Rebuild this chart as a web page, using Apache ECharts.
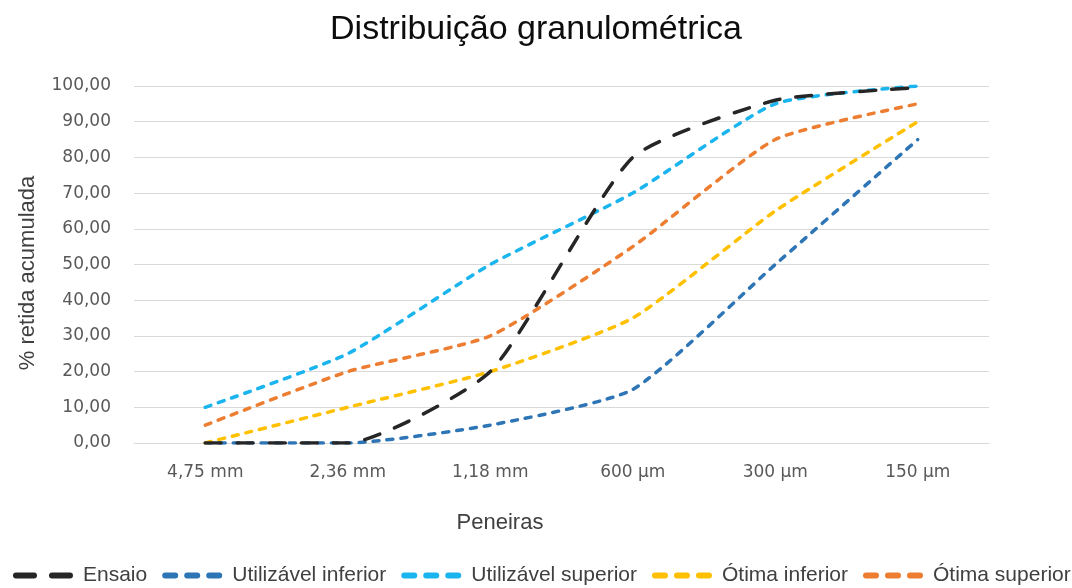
<!DOCTYPE html>
<html>
<head>
<meta charset="utf-8">
<script src="https://cdn.jsdelivr.net/npm/echarts@6/dist/echarts.min.js"></script>
<style>
  html, body { margin: 0; padding: 0; background: #fff; }
  #chart { width: 1072px; height: 588px; }
</style>
</head>
<body>
<div id="chart"></div>
<script>
// Sieve openings (x axis)
const peneiras = ['4,75 mm', '2,36 mm', '1,18 mm', '600 µm', '300 µm', '150 µm'];

// Cumulative retained percentage per sieve
const ensaio = [0, 0, 20, 80, 96, 99.5];
const utilizavelInferior = [0, 0, 5, 15, 50, 85];
const utilizavelSuperior = [10, 25, 50, 70, 95, 100];
const otimaInferior = [0, 10, 20, 35, 65, 90];
const otimaSuperior = [5, 20, 30, 55, 85, 95];

const tickFont = '"DejaVu Sans", sans-serif';
const textFont = '"Liberation Sans", Arial, sans-serif';

// Legend swatches: three short dashes, or two long ones for the test curve
const shortDashIcon = 'path://M3 0H13A3 3 0 0 1 13 6H3A3 3 0 0 1 3 0Z' +
  'M25 0H35A3 3 0 0 1 35 6H25A3 3 0 0 1 25 0Z' +
  'M47 0H57A3 3 0 0 1 57 6H47A3 3 0 0 1 47 0Z';
const longDashIcon = 'path://M3 0H21A3 3 0 0 1 21 6H3A3 3 0 0 1 3 0Z' +
  'M39 0H57A3 3 0 0 1 57 6H39A3 3 0 0 1 39 0Z';

function dashed(name, data, color, dash, z) {
  return {
    name: name,
    type: 'line',
    data: data,
    smooth: 0.18,
    symbol: 'none',
    z: z,
    lineStyle: { color: color, width: 3.5, type: dash, cap: 'round' },
    itemStyle: { color: color }
  };
}

const chart = echarts.init(document.getElementById('chart'), null, { renderer: 'canvas' });
chart.setOption({
  animation: false,
  backgroundColor: '#ffffff',
  title: {
    text: 'Distribuição granulométrica',
    left: 531,
    textAlign: 'center',
    top: 8,
    textStyle: { fontFamily: textFont, fontSize: 34, fontWeight: 'normal', color: '#0d0d0d' }
  },
  grid: { left: 134, right: 83, top: 86, bottom: 145 },
  xAxis: {
    type: 'category',
    data: peneiras,
    boundaryGap: true,
    axisLine: { show: true, lineStyle: { color: '#d9d9d9', width: 1 } },
    axisTick: { show: false },
    axisLabel: { color: '#595959', fontSize: 17, fontFamily: tickFont, margin: 21 }
  },
  yAxis: {
    type: 'value',
    min: 0,
    max: 100,
    interval: 10,
    axisLine: { show: false },
    axisTick: { show: false },
    splitLine: { lineStyle: { color: '#d9d9d9', width: 1 } },
    axisLabel: {
      color: '#595959', fontSize: 17, fontFamily: tickFont, margin: 23,
      formatter: v => v.toFixed(2).replace('.', ',')
    }
  },
  legend: {
    bottom: 2,
    left: 13,
    width: 1072,
    padding: 0,
    itemWidth: 60,
    itemHeight: 6,
    itemGap: 15,
    textStyle: { color: '#404040', fontSize: 21, fontFamily: textFont, padding: [0, 0, 0, 5] },
    data: [
      { name: 'Ensaio', icon: longDashIcon },
      { name: 'Utilizável inferior', icon: shortDashIcon },
      { name: 'Utilizável superior', icon: shortDashIcon },
      { name: 'Ótima inferior', icon: shortDashIcon },
      { name: 'Ótima superior', icon: shortDashIcon }
    ]
  },
  graphic: [
    {
      type: 'text', x: 500, y: 523,
      style: { text: 'Peneiras', fontSize: 22, fontFamily: textFont, fill: '#404040', align: 'center', verticalAlign: 'middle' }
    },
    {
      type: 'text', x: 28, y: 273, rotation: Math.PI / 2,
      style: { text: '% retida acumulada', fontSize: 22, fontFamily: textFont, fill: '#404040', align: 'center', verticalAlign: 'middle' }
    }
  ],
  series: [
    dashed('Utilizável inferior', utilizavelInferior, '#2E75B6', [6, 8], 2),
    dashed('Utilizável superior', utilizavelSuperior, '#1AB4EE', [6, 8], 2),
    dashed('Ótima inferior', otimaInferior, '#FFC000', [6, 8], 2),
    dashed('Ótima superior', otimaSuperior, '#ED7D31', [6, 8], 2),
    dashed('Ensaio', ensaio, '#262626', [16, 16], 3)
  ]
});
</script>
</body>
</html>
